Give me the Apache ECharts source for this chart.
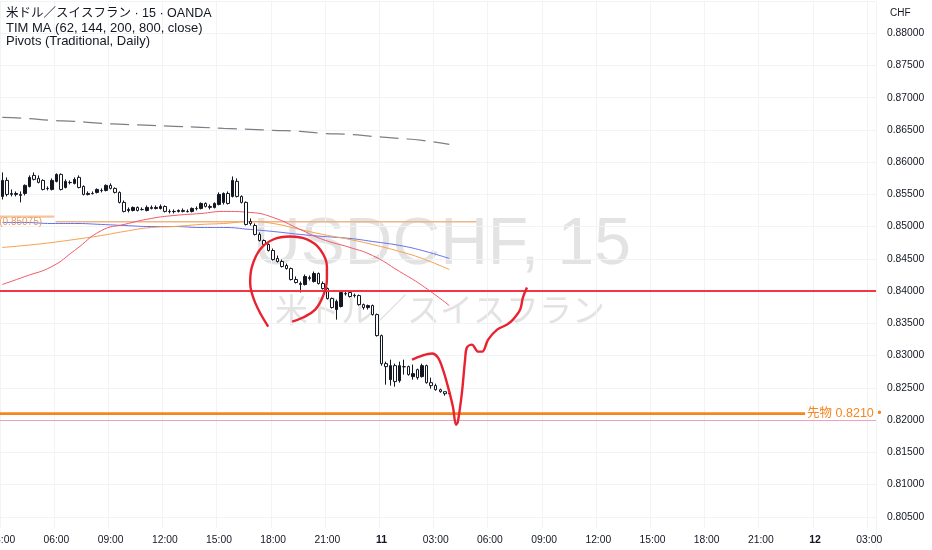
<!DOCTYPE html>
<html>
<head>
<meta charset="utf-8">
<title>USDCHF 15</title>
<script src="https://cdn.jsdelivr.net/npm/echarts@6/dist/echarts.min.js"></script>
<style>
  html, body { margin: 0; padding: 0; background: #ffffff; }
  #main { width: 932px; height: 550px; }
</style>
</head>
<body>
<div id="main"></div>
<script>
// timeline: 15 minute bars from the 10th 03:00
var startDay = 10;
var startMinute = 180;
var barMinutes = 15;
var barCount = 194;

// candles [open, close, low, high]
var ohlc = [
  [0.85469, 0.85717, 0.85422, 0.85841], [0.85717, 0.85500, 0.85469, 0.85764],
  [0.85515, 0.85500, 0.85469, 0.85577], [0.85500, 0.85515, 0.85469, 0.85546],
  [0.85500, 0.85484, 0.85376, 0.85546], [0.85515, 0.85640, 0.85484, 0.85655],
  [0.85624, 0.85764, 0.85608, 0.85795], [0.85795, 0.85733, 0.85717, 0.85841],
  [0.85748, 0.85686, 0.85671, 0.85795], [0.85717, 0.85577, 0.85562, 0.85733],
  [0.85593, 0.85590, 0.85562, 0.85624], [0.85577, 0.85717, 0.85562, 0.85748],
  [0.85702, 0.85810, 0.85686, 0.85826], [0.85810, 0.85577, 0.85562, 0.85826],
  [0.85608, 0.85702, 0.85593, 0.85733], [0.85686, 0.85683, 0.85655, 0.85717],
  [0.85671, 0.85733, 0.85655, 0.85764], [0.85764, 0.85608, 0.85593, 0.85795],
  [0.85624, 0.85500, 0.85484, 0.85640], [0.85500, 0.85515, 0.85484, 0.85546],
  [0.85515, 0.85512, 0.85500, 0.85546], [0.85531, 0.85577, 0.85515, 0.85593],
  [0.85562, 0.85559, 0.85531, 0.85593], [0.85562, 0.85640, 0.85546, 0.85655],
  [0.85640, 0.85593, 0.85577, 0.85671], [0.85593, 0.85531, 0.85515, 0.85608],
  [0.85531, 0.85376, 0.85360, 0.85546], [0.85376, 0.85236, 0.85220, 0.85407],
  [0.85251, 0.85267, 0.85220, 0.85298], [0.85251, 0.85298, 0.85236, 0.85313],
  [0.85298, 0.85251, 0.85236, 0.85313], [0.85267, 0.85264, 0.85251, 0.85298],
  [0.85251, 0.85298, 0.85236, 0.85329], [0.85298, 0.85282, 0.85267, 0.85329],
  [0.85282, 0.85298, 0.85267, 0.85329], [0.85282, 0.85313, 0.85267, 0.85344],
  [0.85313, 0.85236, 0.85220, 0.85329], [0.85236, 0.85233, 0.85205, 0.85267],
  [0.85233, 0.85236, 0.85205, 0.85267], [0.85236, 0.85251, 0.85220, 0.85267],
  [0.85251, 0.85236, 0.85220, 0.85282], [0.85236, 0.85233, 0.85220, 0.85267],
  [0.85236, 0.85282, 0.85220, 0.85298], [0.85282, 0.85279, 0.85251, 0.85313],
  [0.85282, 0.85360, 0.85267, 0.85376], [0.85360, 0.85313, 0.85298, 0.85376],
  [0.85313, 0.85298, 0.85267, 0.85344], [0.85298, 0.85360, 0.85282, 0.85376],
  [0.85344, 0.85500, 0.85329, 0.85531], [0.85376, 0.85515, 0.85344, 0.85531],
  [0.85515, 0.85360, 0.85344, 0.85546], [0.85469, 0.85717, 0.85453, 0.85779],
  [0.85702, 0.85469, 0.85453, 0.85748], [0.85469, 0.85376, 0.85360, 0.85484],
  [0.85376, 0.85034, 0.85018, 0.85391], [0.85080, 0.85049, 0.85018, 0.85127],
  [0.85018, 0.84879, 0.84863, 0.85049], [0.84879, 0.84785, 0.84770, 0.84910],
  [0.84785, 0.84723, 0.84708, 0.84801], [0.84723, 0.84630, 0.84615, 0.84739],
  [0.84630, 0.84490, 0.84475, 0.84661], [0.84506, 0.84459, 0.84444, 0.84552],
  [0.84459, 0.84382, 0.84366, 0.84490], [0.84397, 0.84350, 0.84335, 0.84428],
  [0.84350, 0.84180, 0.84164, 0.84366], [0.84180, 0.84133, 0.84118, 0.84227],
  [0.84118, 0.84102, 0.83978, 0.84149], [0.84102, 0.84227, 0.84087, 0.84258],
  [0.84211, 0.84195, 0.84164, 0.84242], [0.84149, 0.84273, 0.84133, 0.84304],
  [0.84273, 0.84118, 0.84102, 0.84289], [0.84118, 0.84040, 0.84025, 0.84149],
  [0.84040, 0.83885, 0.83869, 0.84056], [0.83885, 0.83745, 0.83730, 0.83900],
  [0.83714, 0.83838, 0.83558, 0.83869], [0.83761, 0.83978, 0.83745, 0.83993],
  [0.83962, 0.83959, 0.83931, 0.83993], [0.83978, 0.83916, 0.83900, 0.83993],
  [0.83931, 0.83934, 0.83900, 0.83962], [0.83931, 0.83791, 0.83776, 0.83947],
  [0.83791, 0.83745, 0.83714, 0.83807], [0.83745, 0.83776, 0.83714, 0.83791],
  [0.83776, 0.83636, 0.83621, 0.83791], [0.83636, 0.83310, 0.83295, 0.83652],
  [0.83310, 0.82875, 0.82844, 0.83326], [0.82875, 0.82829, 0.82549, 0.82906],
  [0.82627, 0.82844, 0.82534, 0.82937], [0.82844, 0.82596, 0.82518, 0.82875],
  [0.82611, 0.82844, 0.82580, 0.82906], [0.82829, 0.82826, 0.82705, 0.82937],
  [0.82829, 0.82705, 0.82689, 0.82844], [0.82674, 0.82720, 0.82627, 0.82860],
  [0.82782, 0.82658, 0.82627, 0.82798], [0.82674, 0.82844, 0.82658, 0.82875],
  [0.82844, 0.82580, 0.82565, 0.82860], [0.82580, 0.82534, 0.82487, 0.82658],
  [0.82534, 0.82471, 0.82456, 0.82565], [0.82471, 0.82440, 0.82425, 0.82487],
  [0.82440, 0.82409, 0.82378, 0.82440], [0.82409, 0.82416, 0.82394, 0.82425]
];
var lastPrice = 0.82416;

// TIM MA readings at these bar indexes
var maIdx = [0, 5, 11, 16, 22, 27, 33, 38, 44, 49, 55, 60, 66, 71, 77, 82, 88, 93, 99];
var ma62 = [0.84102, 0.84226, 0.84382, 0.84630, 0.84941, 0.85034, 0.85127, 0.85173, 0.85204, 0.85236,
            0.85220, 0.85142, 0.84956, 0.84801, 0.84677, 0.84552, 0.84304, 0.84087, 0.83776];
var ma144 = [0.84677, 0.84708, 0.84754, 0.84801, 0.84863, 0.84925, 0.84987, 0.85002, 0.85034, 0.85049,
             0.85080, 0.85049, 0.84956, 0.84879, 0.84801, 0.84723, 0.84615, 0.84506, 0.84335];
var ma200 = [0.85065, 0.85065, 0.85049, 0.85049, 0.85034, 0.85018, 0.85002, 0.85002, 0.84987, 0.84987,
             0.84956, 0.84925, 0.84879, 0.84848, 0.84817, 0.84770, 0.84708, 0.84630, 0.84506];
var ma800 = [0.86695, 0.86680, 0.86649, 0.86633, 0.86602, 0.86587, 0.86571, 0.86556, 0.86540, 0.86525,
             0.86509, 0.86494, 0.86478, 0.86447, 0.86431, 0.86400, 0.86369, 0.86338, 0.86276];

// daily pivots (P)
var pivotValues = [0.85155, 0.85075];
var pivotStart = [-0.5, 11.8];
var pivotEnd = [11.5, 105];

// levels
var resistLevel = 0.840;
var futuresLevel = 0.821;
var futuresEnd = 177.8;
var roundLevel = 0.820;

// hand drawn strokes [bar index, price]
var circleStroke = [
  [58.9, 0.83450], [56.0, 0.83822], [54.9, 0.84133], [55.3, 0.84381], [57.1, 0.84646],
  [60.0, 0.84801], [63.7, 0.84847], [67.5, 0.84801], [70.4, 0.84646], [71.9, 0.84381],
  [71.9, 0.84180], [71.0, 0.83916], [69.3, 0.83714], [66.6, 0.83590], [64.2, 0.83528]
];
var pathStroke = [
  [90.75, 0.82937], [93.0, 0.83000], [95.2, 0.83032], [96.5, 0.82968], [97.6, 0.82782],
  [98.7, 0.82518], [99.8, 0.82207], [100.5, 0.81928], [100.9, 0.81975], [101.8, 0.82425],
  [102.5, 0.82937], [102.9, 0.83124], [104.0, 0.83170], [105.4, 0.83062], [106.3, 0.83062],
  [107.6, 0.83248], [109.6, 0.83403], [111.8, 0.83481], [113.1, 0.83558], [114.7, 0.83714],
  [115.3, 0.83900], [116.2, 0.84056]
];

function pad(n) { return (n < 10 ? '0' : '') + n; }

var categories = [];
for (var i = 0; i < barCount; i++) {
  var m = startMinute + i * barMinutes;
  var d = startDay + Math.floor(m / 1440);
  var mod = m % 1440;
  categories.push(d + ' ' + pad(Math.floor(mod / 60)) + ':' + pad(mod % 60));
}

function isMajor(idx, val) {
  var t = val.split(' ')[1];
  var hh = parseInt(t.slice(0, 2), 10);
  return t.slice(3) === '00' && hh % 3 === 0;
}

function pairs(xs, ys) {
  return xs.map(function (x, k) { return [x, ys[k]]; });
}

var FONT = "'Liberation Sans', 'Noto Sans CJK JP', sans-serif";
var TEXT = '#131722';

var myChart = echarts.init(document.getElementById('main'));

var option = {
  animation: false,
  backgroundColor: '#ffffff',
  textStyle: { fontFamily: FONT },
  grid: [
    { left: 0, right: 56, top: 1, bottom: 1, outerBoundsMode: 'none', containLabel: false },
    { left: 0, right: 56, top: 528, height: 1, outerBoundsMode: 'none', containLabel: false }
  ],
  xAxis: [
    {
      type: 'category', gridIndex: 0, data: categories, boundaryGap: true,
      axisLine: { show: false }, axisTick: { show: false }, axisLabel: { show: false },
      splitLine: { show: true, interval: isMajor, lineStyle: { color: '#f2f3f5', width: 1 } }
    },
    {
      type: 'value', gridIndex: 0, min: -0.5, max: barCount - 0.5, show: false
    },
    {
      type: 'category', gridIndex: 1, data: categories, boundaryGap: true, z: 60,
      axisLine: { show: false }, axisTick: { show: false }, splitLine: { show: false },
      axisLabel: {
        interval: isMajor, margin: 6, color: TEXT, fontSize: 10.3, fontFamily: FONT,
        hideOverlap: false,
        formatter: function (val) {
          var p = val.split(' ');
          if (p[1] === '00:00') return '{b|' + p[0] + '}';
          return p[1];
        },
        rich: { b: { fontWeight: 'bold', fontSize: 10.5, color: TEXT, fontFamily: FONT } }
      }
    }
  ],
  yAxis: [
    {
      type: 'value', gridIndex: 0, position: 'right', min: 0.800, max: 0.885, interval: 0.005,
      axisLine: { show: false }, axisTick: { show: false },
      splitLine: { lineStyle: { color: '#f2f3f5', width: 1 } },
      axisLabel: {
        margin: 11, color: TEXT, fontSize: 10.3, fontFamily: FONT,
        formatter: function (v) {
          var r = Math.round(v * 1000) / 1000;
          if (r <= 0.8001 || r >= 0.8849) return '';
          return v.toFixed(5);
        }
      }
    },
    { type: 'value', gridIndex: 1, show: false }
  ],
  graphic: [
    { type: 'rect', z: 50, shape: { x: 0, y: 528, width: 876, height: 22 }, style: { fill: '#ffffff' } },
    { type: 'text', z: 0, x: 442, y: 246, style: { text: 'USDCHF, 15', font: '66px ' + FONT, fill: '#e3e3e3', textAlign: 'center', textVerticalAlign: 'middle' } },
    { type: 'text', z: 0, x: 440, y: 313, style: { text: '米ドル／スイスフラン', font: '33px ' + FONT, fill: '#e3e3e3', textAlign: 'center', textVerticalAlign: 'middle' } },
    { type: 'text', z: 60, x: 6, y: 14, style: { text: '米ドル／スイスフラン · 15 · OANDA', font: '12.5px ' + FONT, fill: TEXT, textVerticalAlign: 'middle' } },
    { type: 'text', z: 60, x: 6, y: 28, style: { text: 'TIM MA (62, 144, 200, 800, close)', font: '13px ' + FONT, fill: TEXT, textVerticalAlign: 'middle' } },
    { type: 'text', z: 60, x: 6, y: 41, style: { text: 'Pivots (Traditional, Daily)', font: '13px ' + FONT, fill: TEXT, textVerticalAlign: 'middle' } },
    { type: 'text', z: 60, x: 890, y: 13, style: { text: 'CHF', font: '10px ' + FONT, fill: TEXT, textVerticalAlign: 'middle' } }
  ],
  series: [
    {
      name: 'pivotPrev', type: 'line', xAxisIndex: 1, yAxisIndex: 0, z: 1,
      symbol: 'none', silent: true,
      lineStyle: { color: '#f5c59b', width: 2.2 },
      data: [[pivotStart[0], pivotValues[0]], [pivotEnd[0], pivotValues[0]]]
    },
    {
      name: 'pivot', type: 'line', xAxisIndex: 1, yAxisIndex: 0, z: 1,
      symbol: 'none', silent: true,
      lineStyle: { color: '#f1b483', width: 1.6 },
      data: [[pivotStart[1], pivotValues[1]], [pivotEnd[1], pivotValues[1]]],
      markPoint: {
        symbol: 'circle', symbolSize: 1, silent: true,
        itemStyle: { color: 'rgba(0,0,0,0)' },
        label: {
          show: true, position: 'left', distance: 13, color: '#e59c66', fontSize: 10, fontFamily: FONT,
          formatter: 'P (' + pivotValues[1].toFixed(5) + ')'
        },
        data: [{ coord: [pivotStart[1], pivotValues[1]] }]
      }
    },
    {
      name: 'MA800', type: 'line', xAxisIndex: 1, yAxisIndex: 0, z: 2,
      symbol: 'none', smooth: true, silent: true,
      lineStyle: { color: '#7d7f86', width: 1.2, type: [19, 8] },
      data: pairs(maIdx, ma800)
    },
    {
      name: 'MA200', type: 'line', xAxisIndex: 1, yAxisIndex: 0, z: 2,
      symbol: 'none', smooth: true, silent: true,
      lineStyle: { color: '#6470ea', width: 1 },
      data: pairs(maIdx, ma200)
    },
    {
      name: 'MA144', type: 'line', xAxisIndex: 1, yAxisIndex: 0, z: 2,
      symbol: 'none', smooth: true, silent: true,
      lineStyle: { color: '#f5a04c', width: 1 },
      data: pairs(maIdx, ma144)
    },
    {
      name: 'MA62', type: 'line', xAxisIndex: 1, yAxisIndex: 0, z: 2,
      symbol: 'none', smooth: true, silent: true,
      lineStyle: { color: '#f05a68', width: 1 },
      data: pairs(maIdx, ma62)
    },
    {
      name: 'USDCHF', type: 'candlestick', xAxisIndex: 0, yAxisIndex: 0, z: 3,
      barWidth: 3,
      itemStyle: {
        color: '#131722', color0: '#ffffff',
        borderColor: '#131722', borderColor0: '#131722', borderWidth: 1
      },
      data: ohlc,
      markLine: {
        silent: true, symbol: ['none', 'none'], animation: false,
        data: [
          { yAxis: resistLevel, lineStyle: { color: '#f23645', width: 2, type: 'solid' }, label: { show: false } },
          { yAxis: roundLevel, lineStyle: { color: '#eda2c4', width: 1.2, type: 'solid' }, label: { show: false } },
          {
            yAxis: lastPrice, lineStyle: { opacity: 0 },
            label: {
              show: true, position: 'end', distance: 1, formatter: lastPrice.toFixed(5),
              color: '#ffffff', backgroundColor: '#363a45', padding: [2, 6, 2, 6], borderRadius: 2,
              fontSize: 10.5, fontFamily: FONT
            }
          }
        ]
      }
    },
    {
      name: 'futures', type: 'line', xAxisIndex: 1, yAxisIndex: 0, z: 4,
      symbol: 'none', silent: true,
      lineStyle: { color: '#f5861f', width: 2.6 },
      data: [[-0.5, futuresLevel], [futuresEnd, futuresLevel]],
      endLabel: {
        show: true, distance: 2, color: '#f5861f', fontSize: 12.5, fontFamily: FONT,
        formatter: '先物 ' + futuresLevel.toFixed(4) + ' •'
      }
    },
    {
      name: 'circle', type: 'line', xAxisIndex: 1, yAxisIndex: 0, z: 5,
      symbol: 'none', smooth: 0.4, silent: true,
      lineStyle: { color: '#e8232f', width: 2.4 },
      data: circleStroke
    },
    {
      name: 'path', type: 'line', xAxisIndex: 1, yAxisIndex: 0, z: 5,
      symbol: 'none', smooth: 0.35, silent: true,
      lineStyle: { color: '#e8232f', width: 2.4 },
      data: pathStroke
    }
  ]
};

myChart.setOption(option);
</script>
</body>
</html>
